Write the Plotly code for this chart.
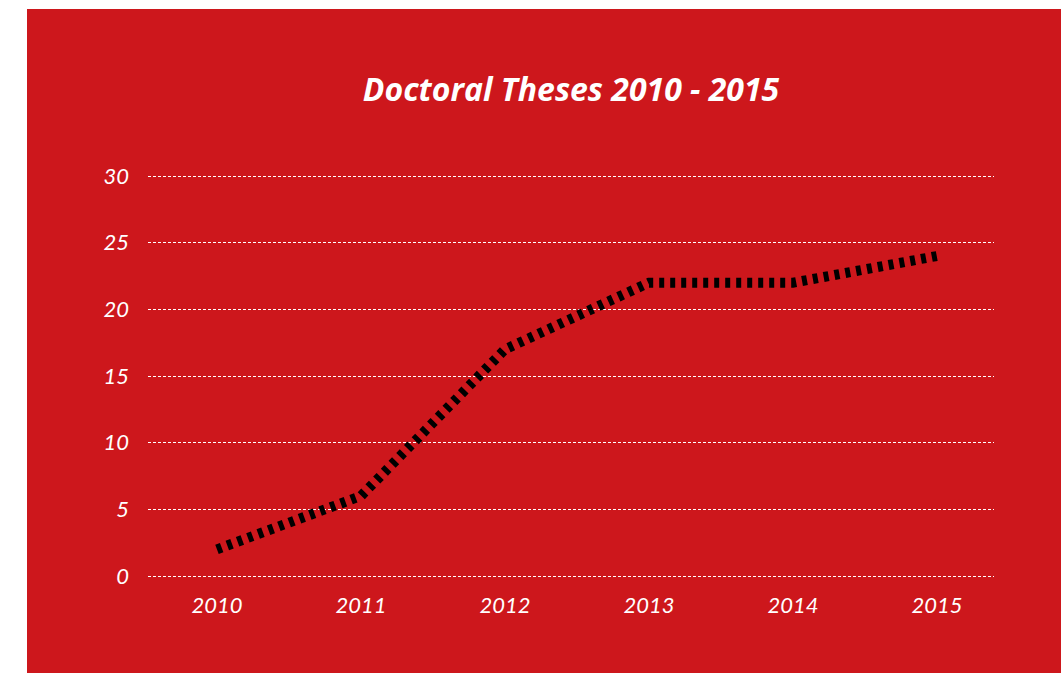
import plotly.graph_objects as go

years = ["2010", "2011", "2012", "2013", "2014", "2015"]
theses = [2, 6, 17, 22, 22, 24]
y_ticks = [0, 5, 10, 15, 20, 25, 30]

RED = "#CD171C"
W, H = 1061, 673
L, R, T, B = 148, 67, 166, 87
pw, ph = W - L - R, H - T - B

fig = go.Figure()
fig.add_trace(go.Scatter(
    x=list(range(len(years))), y=theses, mode="lines",
    line=dict(color="black", width=10, dash="5px,6px"),
    hoverinfo="skip", showlegend=False,
))

# red panel behind the chart
fig.add_shape(type="rect", xref="paper", yref="paper", layer="below",
              x0=(27 - L) / pw, x1=1.3, y0=-0.4, y1=(H - B - 9) / ph,
              fillcolor=RED, line=dict(width=0))

fig.update_layout(
    width=W, height=H,
    margin=dict(l=L, r=R, t=T, b=B),
    paper_bgcolor="white", plot_bgcolor="rgba(0,0,0,0)",
    font=dict(family="Lato", color="white"),
    title=dict(text="Doctoral Theses 2010 - 2015", xref="paper", x=0.5, xanchor="center",
               y=1 - 90 / H, yanchor="middle",
               font=dict(family="Open Sans", size=32, color="white", weight="bold", style="italic")),
    xaxis=dict(range=[-0.479, 5.396], tickvals=list(range(len(years))), ticktext=years,
               showgrid=False, zeroline=False, showline=False, ticks="",
               tickfont=dict(size=22, style="italic", color="white"), ticklabelstandoff=4),
    yaxis=dict(range=[-0.75, 30.75], tickvals=y_ticks, showgrid=True,
               gridcolor="white", gridwidth=1, griddash="3px,2px",
               zeroline=False, showline=False, ticks="",
               tickfont=dict(size=22, style="italic", color="white"), ticklabelstandoff=18),
)

fig.write_html("out.html")
